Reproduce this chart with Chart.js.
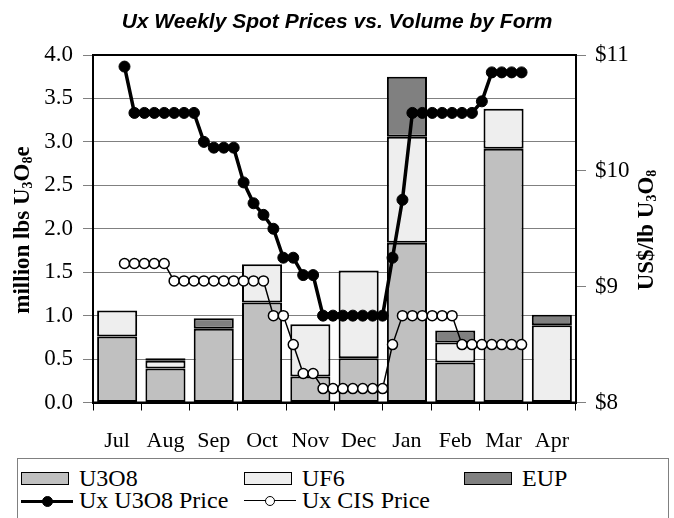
<!DOCTYPE html>
<html>
<head>
<meta charset="utf-8">
<script src="https://cdn.jsdelivr.net/npm/chart.js@4"></script>
<style>
  body { margin: 0; background: #fff; }
  #wrap { position: relative; width: 674px; height: 518px; overflow: hidden; }
  #legend { position: absolute; left: 17px; top: 458px; width: 652px; height: 80px;
            border: 1px solid #808080; box-sizing: border-box; background: #fff;
            font-family: 'Liberation Serif', serif; font-size: 24px; color: #000; }
  .item { position: absolute; height: 22px; line-height: 22px; white-space: nowrap; }
  .item span { position: absolute; left: 58px; top: -1px; }
  .swatch { position: absolute; left: 0; top: 4px; width: 48px; height: 13px; border: 1.5px solid #000; box-sizing: border-box; }
  .line { position: absolute; left: 0; width: 52px; top: 10px; border-top-style: solid; border-top-color: #000; }
  .dot { position: absolute; border-radius: 50%; border: 1.5px solid #000; box-sizing: border-box; }
</style>
</head>
<body>
<div id="wrap">
  <canvas id="chart" width="674" height="518"></canvas>
  <div id="legend"></div>
</div>
<script>
const months = ['Jul', 'Aug', 'Sep', 'Oct', 'Nov', 'Dec', 'Jan', 'Feb', 'Mar', 'Apr'];

// volume by form, million lbs U3O8e
const u3o8Volume = [0.76, 0.39, 0.85, 1.15, 0.30, 0.51, 1.84, 0.46, 2.92, 0];
const uf6Volume = [0.30, 0.09, 0, 0.44, 0.60, 1.01, 1.22, 0.23, 0.46, 0.89];
const eupVolume = [0, 0.03, 0.12, 0, 0, 0, 0.69, 0.14, 0, 0.12];

// weekly spot prices, US$/lb U3O8
const u3o8Price = [10.90, 10.50, 10.50, 10.50, 10.50, 10.50, 10.50, 10.50, 10.25, 10.20,
  10.20, 10.20, 9.90, 9.72, 9.62, 9.50, 9.25, 9.25, 9.10, 9.10,
  8.75, 8.75, 8.75, 8.75, 8.75, 8.75, 8.75, 9.25, 9.75, 10.50,
  10.50, 10.50, 10.50, 10.50, 10.50, 10.50, 10.60, 10.85, 10.85, 10.85, 10.85];
const cisPrice = [9.20, 9.20, 9.20, 9.20, 9.20, 9.05, 9.05, 9.05, 9.05, 9.05,
  9.05, 9.05, 9.05, 9.05, 9.05, 8.75, 8.75, 8.50, 8.25, 8.25,
  8.12, 8.12, 8.12, 8.12, 8.12, 8.12, 8.12, 8.50, 8.75, 8.75,
  8.75, 8.75, 8.75, 8.75, 8.50, 8.50, 8.50, 8.50, 8.50, 8.50, 8.50];

const volumeTicks = [0, 0.5, 1, 1.5, 2, 2.5, 3, 3.5, 4];
const priceTicks = [8, 9, 10, 11];

const serif = 'Liberation Serif';
const weekly = arr => arr.map((v, i) => ({ x: i, y: v }));
const noZero = arr => arr.map(v => (v === 0 ? null : v));

const barStyle = { borderColor: '#000', borderWidth: 2, borderSkipped: false, grouped: false,
  barPercentage: 0.83, categoryPercentage: 1, xAxisID: 'x', yAxisID: 'y', order: 2 };

// text with subscript runs, drawn centred at 0,0
function drawRuns(ctx, runs, size) {
  const sub = Math.round(size * 0.62);
  let total = 0;
  runs.forEach(r => {
    ctx.font = 'bold ' + (r.sub ? sub : size) + 'px ' + serif;
    r.w = ctx.measureText(r.t).width;
    total += r.w;
  });
  let x = -total / 2;
  ctx.textBaseline = 'middle';
  ctx.textAlign = 'left';
  runs.forEach(r => {
    ctx.font = 'bold ' + (r.sub ? sub : size) + 'px ' + serif;
    ctx.fillText(r.t, x, r.sub ? 5 : 0);
    x += r.w;
  });
}

const decorations = {
  id: 'decorations',
  afterDraw(chart) {
    const { ctx, chartArea: a } = chart;
    ctx.save();
    ctx.strokeStyle = '#000';
    ctx.lineWidth = 2;
    ctx.strokeRect(a.left, a.top, a.right - a.left, a.bottom - a.top);

    ctx.fillStyle = '#000';
    ctx.font = 'bold italic 21px Liberation Sans';
    ctx.textAlign = 'center';
    ctx.textBaseline = 'middle';
    ctx.fillText('Ux Weekly Spot Prices vs. Volume by Form', 337, 22);

    ctx.save();
    ctx.translate(23, 230);
    ctx.rotate(-Math.PI / 2);
    drawRuns(ctx, [{ t: 'million lbs U' }, { t: '3', sub: true }, { t: 'O' }, { t: '8', sub: true }, { t: 'e' }], 23);
    ctx.restore();

    ctx.save();
    ctx.translate(647, 230);
    ctx.rotate(-Math.PI / 2);
    drawRuns(ctx, [{ t: 'US$/lb U' }, { t: '3', sub: true }, { t: 'O' }, { t: '8', sub: true }], 23);
    ctx.restore();
    ctx.restore();
  }
};

const chart = new Chart(document.getElementById('chart'), {
  type: 'bar',
  data: {
    labels: months,
    datasets: [
      { ...barStyle, label: 'U3O8', data: noZero(u3o8Volume), backgroundColor: '#c0c0c0' },
      { ...barStyle, label: 'UF6', data: noZero(uf6Volume), backgroundColor: '#eeeeee' },
      { ...barStyle, label: 'EUP', data: noZero(eupVolume), backgroundColor: '#808080' },
      {
        type: 'line', label: 'Ux U3O8 Price', data: weekly(u3o8Price),
        xAxisID: 'x2', yAxisID: 'y2', order: 0,
        borderColor: '#000', borderWidth: 3.5, tension: 0,
        pointRadius: 5.5, pointBackgroundColor: '#000', pointBorderColor: '#000', pointBorderWidth: 1
      },
      {
        type: 'line', label: 'Ux CIS Price', data: weekly(cisPrice),
        xAxisID: 'x2', yAxisID: 'y2', order: 1,
        borderColor: '#000', borderWidth: 1.5, tension: 0,
        pointRadius: 5, pointBackgroundColor: '#fff', pointBorderColor: '#000', pointBorderWidth: 1.5
      }
    ]
  },
  options: {
    responsive: false,
    animation: false,
    layout: { padding: { top: 55, right: 0, bottom: 0, left: 0 } },
    plugins: { legend: { display: false }, title: { display: false }, tooltip: { enabled: false } },
    scales: {
      x: {
        stacked: true,
        offset: true,
        grid: { offset: true, drawOnChartArea: false, tickLength: 8, color: '#000', lineWidth: 1 },
        border: { color: '#000', width: 2 },
        ticks: { color: '#000', font: { family: serif, size: 22 }, padding: 18, maxRotation: 0 },
        afterFit(scale) { scale.height = 115.5; }
      },
      x2: { type: 'linear', display: false, min: -0.47, max: 42.78 },
      y: {
        stacked: true,
        min: 0, max: 4,
        afterBuildTicks(scale) { scale.ticks = volumeTicks.map(v => ({ value: v })); },
        ticks: { color: '#000', font: { family: serif, size: 23 }, padding: 10, callback: v => v.toFixed(1) },
        grid: { color: '#808080', lineWidth: 1, tickLength: 10 },
        border: { color: '#000', width: 2 },
        afterFit(scale) { scale.width = 93; }
      },
      y2: {
        position: 'right',
        min: 8, max: 11,
        afterBuildTicks(scale) { scale.ticks = priceTicks.map(v => ({ value: v })); },
        ticks: { color: '#000', font: { family: serif, size: 23 }, padding: 9, callback: v => '$' + v },
        grid: { drawOnChartArea: false, color: '#808080', tickLength: 10 },
        border: { color: '#000', width: 2 },
        afterFit(scale) { scale.width = 98; }
      }
    }
  },
  plugins: [decorations]
});

// legend laid out like the original: three columns, two rows
const legendEl = document.getElementById('legend');
const cols = [3, 226, 446];
chart.data.datasets.forEach((ds, i) => {
  const item = document.createElement('div');
  item.className = 'item';
  item.style.left = cols[i % 3] + 'px';
  item.style.top = (i < 3 ? 9 : 31) + 'px';
  if (ds.type === 'line') {
    const r = ds.pointRadius;
    item.innerHTML = '<div class="line" style="border-top-width:' + (ds.borderWidth - 0.5) + 'px"></div>' +
      '<div class="dot" style="left:' + (26 - r) + 'px;top:' + (11 - r) + 'px;width:' + (2 * r) +
      'px;height:' + (2 * r) + 'px;background:' + ds.pointBackgroundColor + '"></div>';
  } else {
    item.innerHTML = '<div class="swatch" style="background:' + ds.backgroundColor + '"></div>';
  }
  const label = document.createElement('span');
  label.textContent = ds.label;
  item.appendChild(label);
  legendEl.appendChild(item);
});
</script>
</body>
</html>
